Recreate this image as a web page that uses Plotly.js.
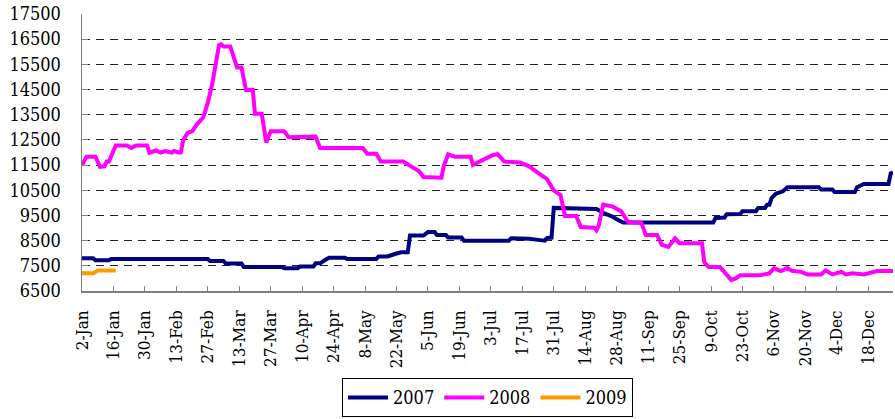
<!DOCTYPE html>
<html>
<head>
<meta charset="utf-8">
<script src="https://cdn.plot.ly/plotly-3.0.1.min.js"></script>
<style>html,body{margin:0;padding:0;background:#fff;}#chart{width:895px;height:419px;}</style>
</head>
<body>
<div id="chart"></div>
<script>
var tickDates = ['2007-01-02','2007-01-16','2007-01-30','2007-02-13','2007-02-27','2007-03-13','2007-03-27','2007-04-10','2007-04-24','2007-05-08','2007-05-22','2007-06-05','2007-06-19','2007-07-03','2007-07-17','2007-07-31','2007-08-14','2007-08-28','2007-09-11','2007-09-25','2007-10-09','2007-10-23','2007-11-06','2007-11-20','2007-12-04','2007-12-18'];
var tickLabels = ['2-Jan','16-Jan','30-Jan','13-Feb','27-Feb','13-Mar','27-Mar','10-Apr','24-Apr','8-May','22-May','5-Jun','19-Jun','3-Jul','17-Jul','31-Jul','14-Aug','28-Aug','11-Sep','25-Sep','9-Oct','23-Oct','6-Nov','20-Nov','4-Dec','18-Dec'];

var dates2007 = ['01-02','01-07','01-08','01-14','01-15','02-27','02-28','03-06','03-07','03-14','03-15','04-01','04-02','04-08','04-09','04-15','04-16','04-18','04-20','04-22','04-29','04-30','05-13','05-14','05-18','05-20','05-22','05-24','05-27','05-28','06-03','06-05','06-08','06-09','06-13','06-14','06-20','06-21','07-11','07-12','07-19','07-20','07-25','07-27','07-28','07-30','07-31','08-18','08-19','08-23','08-26','08-29','08-31','10-10','10-11','10-15','10-16','10-22','10-23','10-29','10-30','11-02','11-03','11-04','11-05','11-07','11-10','11-12','11-26','11-27','12-02','12-03','12-12','12-13','12-16','12-27','12-28','12-29'];
var values2007 = [7800,7800,7720,7720,7770,7770,7690,7690,7590,7590,7450,7450,7400,7400,7470,7470,7600,7600,7720,7820,7820,7770,7770,7870,7870,7950,7990,8040,8040,8700,8700,8840,8840,8720,8720,8620,8620,8500,8500,8590,8590,8570,8520,8500,8600,8620,9800,9780,9760,9560,9460,9300,9220,9220,9400,9420,9550,9560,9670,9670,9800,9800,9930,9930,10200,10370,10460,10620,10620,10530,10530,10430,10430,10620,10750,10750,11170,11220];

var dates2008 = ['01-02','01-04','01-08','01-10','01-12','01-13','01-14','01-16','01-17','01-22','01-24','01-26','01-31','02-01','02-04','02-06','02-08','02-11','02-12','02-14','02-15','02-16','02-18','02-20','02-22','02-25','02-27','03-01','03-03','03-04','03-05','03-06','03-09','03-11','03-12','03-14','03-16','03-19','03-20','03-23','03-25','03-27','04-02','04-04','04-16','04-18','05-07','05-09','05-13','05-15','05-25','05-29','06-01','06-03','06-11','06-12','06-14','06-17','06-24','06-25','06-28','07-01','07-04','07-06','07-09','07-16','07-20','07-24','07-28','07-31','08-03','08-05','08-10','08-12','08-18','08-19','08-20','08-22','08-26','08-30','09-02','09-08','09-10','09-15','09-17','09-20','09-23','09-25','10-05','10-06','10-08','10-13','10-16','10-18','10-20','10-22','10-31','11-04','11-06','11-09','11-12','11-14','11-18','11-21','11-27','11-29','12-02','12-06','12-08','12-11','12-16','12-19','12-22','12-29'];
var values2008 = [11500,11830,11830,11430,11450,11640,11640,12100,12280,12280,12180,12280,12280,11990,12080,12000,12060,12000,12060,12000,12000,12480,12780,12840,13100,13400,13980,14740,15760,16270,16300,16210,16210,15570,15380,15380,14480,14490,13540,13540,12400,12840,12840,12610,12630,12180,12180,11955,11955,11640,11640,11420,11260,11030,11000,11450,11930,11830,11830,11510,11640,11760,11900,11930,11640,11600,11450,11190,10940,10500,10310,9480,9480,9040,9010,8910,9100,9930,9860,9670,9250,9200,8720,8720,8340,8250,8590,8400,8400,7640,7450,7450,7130,6940,7000,7130,7130,7200,7410,7290,7410,7300,7260,7160,7160,7320,7160,7260,7160,7200,7160,7230,7290,7290];

var dates2009 = ['01-02','01-07','01-09','01-17'];
var values2009 = [7200,7200,7310,7310];

var seriesNames = ['2007','2008','2009'];
var seriesColors = ['#000080','#FF00FF','#FF9900'];

function toAxis(ds){ return ds.map(function(d){ return '2007-' + d; }); }

var traces = [
  {x: toAxis(dates2007), y: values2007},
  {x: toAxis(dates2008), y: values2008},
  {x: toAxis(dates2009), y: values2009}
].map(function(t, i){
  t.type = 'scatter';
  t.mode = 'lines';
  t.name = seriesNames[i];
  t.line = {color: seriesColors[i], width: 4};
  t.hoverinfo = 'skip';
  return t;
});

var fam = 'DejaVu Serif Condensed';

var layout = {
  width: 895, height: 419,
  margin: {l: 82, r: 2, t: 14, b: 116},
  paper_bgcolor: '#ffffff',
  plot_bgcolor: '#ffffff',
  font: {family: fam, size: 18, color: '#000'},
  showlegend: true,
  legend: {
    orientation: 'h', x: 0.5, xanchor: 'center', y: -0.315, yanchor: 'top',
    bordercolor: '#000', borderwidth: 1, bgcolor: '#fff',
    font: {family: fam, size: 18, color: '#000'},
    itemwidth: 40, tracegroupgap: 0
  },
  xaxis: {
    type: 'date',
    automargin: false,
    range: ['2007-01-02', '2007-12-29'],
    tickmode: 'array', tickvals: tickDates, ticktext: tickLabels,
    tickangle: -90,
    ticks: 'inside', ticklen: 5, tickcolor: '#808080', tickwidth: 1,
    showline: true, linecolor: '#808080', linewidth: 1.5,
    showgrid: false, zeroline: false,
    tickfont: {family: fam, size: 17, color: '#000'},
    ticklabelstandoff: 11
  },
  yaxis: {
    automargin: false,
    range: [6500, 17500],
    tick0: 6500, dtick: 1000,
    tickformat: 'd',
    ticks: 'inside', ticklen: 6, tickcolor: '#808080', tickwidth: 1,
    showline: true, linecolor: '#808080', linewidth: 1.5,
    showgrid: true, gridcolor: '#222', gridwidth: 1, griddash: '8px,6px',
    zeroline: false,
    tickfont: {family: fam, size: 18, color: '#000'},
    ticklabelstandoff: 16
  }
};

Plotly.newPlot('chart', traces, layout, {displayModeBar: false, staticPlot: true});
</script>
</body>
</html>
